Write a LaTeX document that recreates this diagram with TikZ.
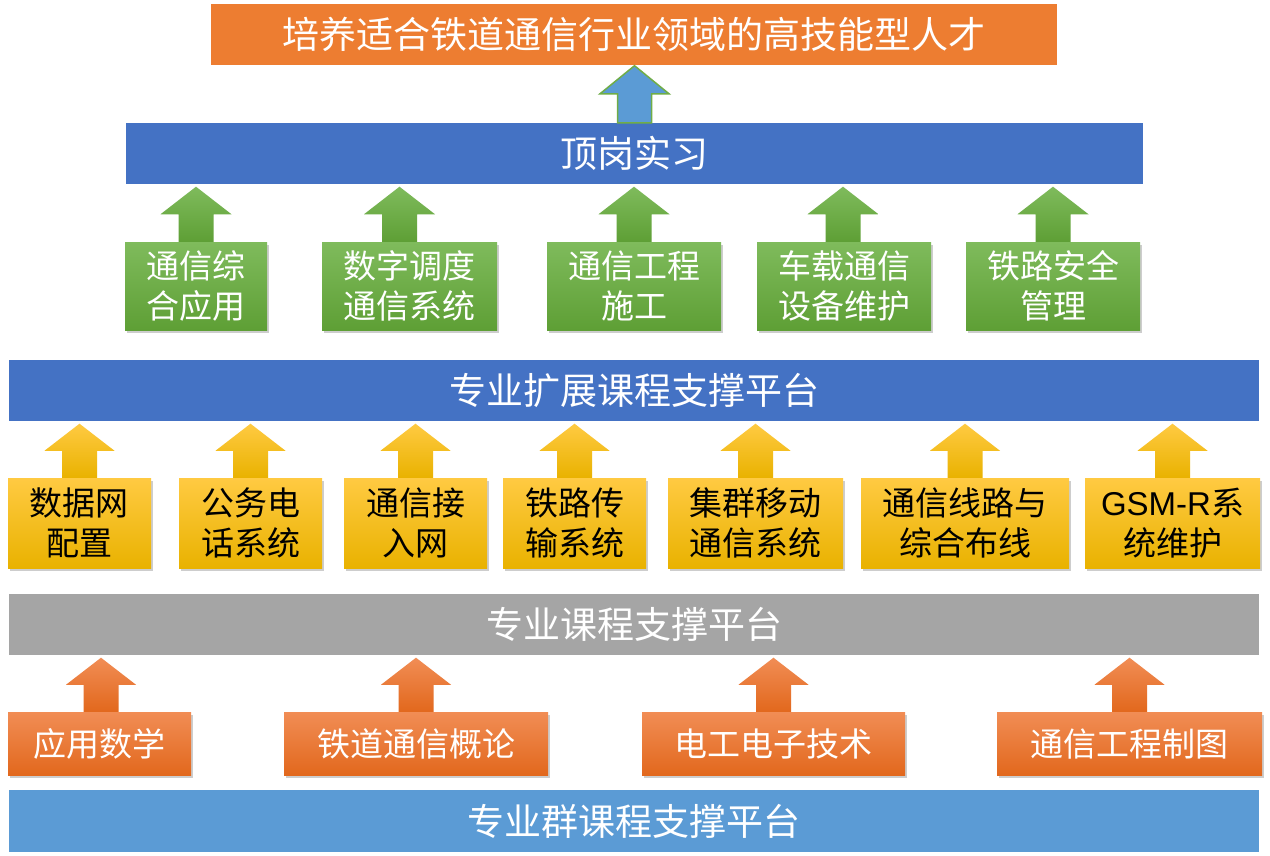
\documentclass[tikz,border=0pt]{standalone}
\usepackage{fontspec}
\setmainfont{Noto Sans CJK SC}
\newfontfamily\latinfont{Liberation Sans}
\usetikzlibrary{calc,shadows}
\definecolor{titleorange}{HTML}{ED7D31}
\definecolor{darkblue}{HTML}{4472C4}
\definecolor{lightblue}{HTML}{5B9BD5}
\definecolor{barGray}{HTML}{A5A5A5}
\definecolor{greenTop}{HTML}{7FBB5C}
\definecolor{greenBot}{HTML}{5E9F35}
\definecolor{yellowTop}{HTML}{FFCA42}
\definecolor{yellowBot}{HTML}{E9B200}
\definecolor{orangeTop}{HTML}{F18D55}
\definecolor{orangeBot}{HTML}{E2681D}
\definecolor{arrowOutline}{HTML}{70AD47}
\newcommand\blockarr[4]{% #1 style, #2 start point, #3 target node, #4 head half width
  \path[#1] let \p1=(#2), \p2=(#3.south), \n1={\y2-2.5pt}, \n2={(\y1+\y2-2.5pt)/2} in
    (\x1-17.5pt,\y1) -- (\x1-17.5pt,\n2) -- (\x1-#4,\n2) -- (\x1,\n1)
    -- (\x1+#4,\n2) -- (\x1+17.5pt,\n2) -- (\x1+17.5pt,\y1) -- cycle;}
\begin{document}
\begin{tikzpicture}[x=1pt,y=-1pt,
  bar/.style={rectangle, inner sep=0pt, minimum height=61pt, text=white,
    font=\fontsize{37}{44}\selectfont},
  boxbase/.style={rectangle, inner sep=0pt, align=center,
    font=\fontsize{33}{40}\selectfont,
    drop shadow={shadow xshift=1.5pt, shadow yshift=-3pt, opacity=0.28, fill=black!70}},
  gbox/.style={boxbase, minimum height=88pt, text=white, top color=greenTop, bottom color=greenBot},
  ybox/.style={boxbase, minimum height=90pt, text=black, top color=yellowTop, bottom color=yellowBot},
  obox/.style={boxbase, minimum height=63pt, text=white, top color=orangeTop, bottom color=orangeBot},
  garr/.style={top color=greenTop, bottom color=greenBot},
  yarr/.style={top color=yellowTop, bottom color=yellowBot},
  oarr/.style={top color=orangeTop, bottom color=orangeBot},
  barr/.style={fill=lightblue, draw=arrowOutline, line width=1.5pt}]
\useasboundingbox (0,0) rectangle (1270,855);
\fill[white] (0,0) rectangle (1270,855);

% bars
\node[bar, fill=titleorange, minimum width=846pt] (goal) at (634,34) {培养适合铁道通信行业领域的高技能型人才};
\node[bar, fill=darkblue, minimum width=1017pt] (intern) at (634.5,153.5) {顶岗实习};
\node[bar, fill=darkblue, minimum width=1250pt] (ext) at (634,390.5) {专业扩展课程支撑平台};
\node[bar, fill=barGray, minimum width=1250pt] (core) at (634,624.5) {专业课程支撑平台};
\node[bar, fill=lightblue, minimum width=1250pt, minimum height=62pt] (base) at (634,821) {专业群课程支撑平台};

% green boxes
\node[gbox, minimum width=142pt] (g1) at (196,286) {通信综\\合应用};
\node[gbox, minimum width=175pt] (g2) at (409.5,286) {数字调度\\通信系统};
\node[gbox, minimum width=174pt] (g3) at (634,286) {通信工程\\施工};
\node[gbox, minimum width=174pt] (g4) at (844,286) {车载通信\\设备维护};
\node[gbox, minimum width=174pt] (g5) at (1053,286) {铁路安全\\管理};

% yellow boxes
\node[ybox, minimum width=143pt] (y1) at (79.5,523) {数据网\\配置};
\node[ybox, minimum width=143pt] (y2) at (250.5,523) {公务电\\话系统};
\node[ybox, minimum width=143pt] (y3) at (415.5,523) {通信接\\入网};
\node[ybox, minimum width=143pt] (y4) at (574.5,523) {铁路传\\输系统};
\node[ybox, minimum width=175pt] (y5) at (755.5,523) {集群移动\\通信系统};
\node[ybox, minimum width=208pt] (y6) at (965,523) {通信线路与\\综合布线};
\node[ybox, minimum width=175pt] (y7) at (1172.5,523) {{\latinfont GSM-R}系\\统维护};

% orange boxes
\node[obox, minimum width=183pt] (o1) at (99.5,743.5) {应用数学};
\node[obox, minimum width=264pt] (o2) at (416,743.5) {铁道通信概论};
\node[obox, minimum width=263pt] (o3) at (773.5,743.5) {电工电子技术};
\node[obox, minimum width=265pt] (o4) at (1129.5,743.5) {通信工程制图};

% arrows
\path[barr] let \p1=(intern.north), \p2=(goal.south) in
  (\x1-17pt,\y1) -- (\x1-17pt,\y1+29pt) -- (\x1-34.5pt,\y1+29pt) -- (\x1,\y2-1pt)
  -- (\x1+34.5pt,\y1+29pt) -- (\x1+17pt,\y1+29pt) -- (\x1+17pt,\y1) -- cycle;

\blockarr{garr}{g1.north}{intern}{35.5pt}
\blockarr{garr}{$(g2.north)+(-10,0)$}{intern}{35.5pt}
\blockarr{garr}{g3.north}{intern}{35.5pt}
\blockarr{garr}{$(g4.north)+(-1,0)$}{intern}{35.5pt}
\blockarr{garr}{g5.north}{intern}{35.5pt}

\blockarr{yarr}{y1.north}{ext}{35pt}
\blockarr{yarr}{y2.north}{ext}{35pt}
\blockarr{yarr}{y3.north}{ext}{35pt}
\blockarr{yarr}{y4.north}{ext}{35pt}
\blockarr{yarr}{y5.north}{ext}{35pt}
\blockarr{yarr}{y6.north}{ext}{35pt}
\blockarr{yarr}{y7.north}{ext}{35pt}

\blockarr{oarr}{$(o1.north)+(1.5,0)$}{core}{35pt}
\blockarr{oarr}{o2.north}{core}{35pt}
\blockarr{oarr}{o3.north}{core}{35pt}
\blockarr{oarr}{o4.north}{core}{35pt}
\end{tikzpicture}
\end{document}
